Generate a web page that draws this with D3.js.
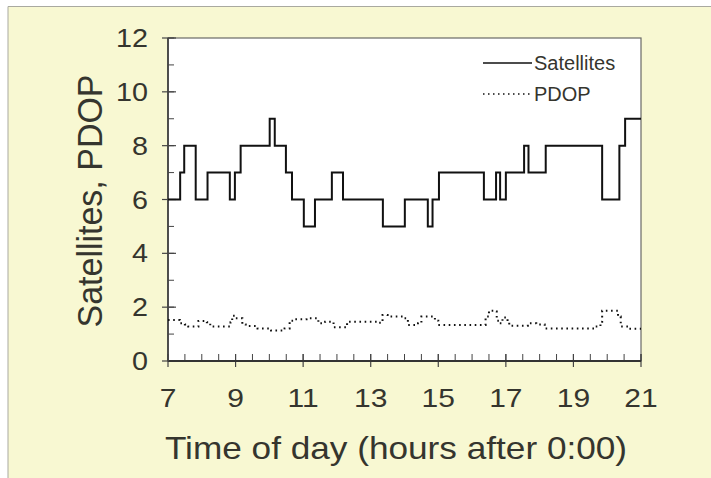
<!doctype html>
<html>
<head>
<meta charset="utf-8"/>
<title>Satellites, PDOP</title>
<script src="https://d3js.org/d3.v7.min.js"></script>
<style>
body { margin:0; background:#fff; }
text { font-family: "Liberation Sans", Arial, sans-serif; fill:#35352e; }
</style>
</head>
<body>
<script>
// step data: hour where each level starts, and the level
var satHours  = [7, 7.36, 7.48, 7.82, 8.17, 8.83, 8.98, 9.15, 10.01, 10.16, 10.49, 10.67, 11.02, 11.35, 11.85, 12.18, 13.36, 14.01, 14.69, 14.83, 15.02, 16.35, 16.71, 16.83, 17.0, 17.54, 17.67, 18.18, 19.85, 20.36, 20.53, 21];
var satValues = [6, 7, 8, 6, 7, 6, 7, 8, 9, 8, 7, 6, 5, 6, 7, 6, 5, 6, 5, 6, 7, 6, 7, 6, 7, 8, 7, 8, 6, 8, 9, 9];

var pdopHours  = [7, 7.35, 7.5, 7.6, 7.9, 8.15, 8.25, 8.85, 8.9, 9.0, 9.2, 9.3, 9.65, 10.05, 10.45, 10.6, 10.75, 11.1, 11.45, 11.65, 11.9, 12.3, 13.2, 13.35, 13.5, 14.0, 14.1, 14.4, 14.5, 14.9, 15.0, 16.4, 16.5, 16.68, 16.73, 16.8, 16.9, 17.05, 17.1, 17.65, 17.9, 18.15, 19.65, 19.8, 19.85, 20.32, 20.4, 20.65, 21];
var pdopValues = [1.52, 1.40, 1.36, 1.28, 1.49, 1.44, 1.28, 1.44, 1.68, 1.59, 1.36, 1.30, 1.21, 1.13, 1.21, 1.50, 1.55, 1.59, 1.40, 1.46, 1.25, 1.46, 1.42, 1.71, 1.65, 1.59, 1.34, 1.40, 1.65, 1.50, 1.34, 1.65, 1.87, 1.84, 1.50, 1.40, 1.62, 1.44, 1.31, 1.40, 1.36, 1.21, 1.28, 1.46, 1.87, 1.65, 1.28, 1.20, 1.20];

var xTicks = [7, 9, 11, 13, 15, 17, 19, 21];
var yTicks = [0, 2, 4, 6, 8, 10, 12];
var legendNames = ["Satellites", "PDOP"];

var W = 711, H = 478;
var svg = d3.select("body").append("svg")
    .attr("width", W)
    .attr("height", H);

// yellow card with a thin grey frame on the top and left
svg.append("rect").attr("x", 8).attr("y", 6).attr("width", W - 8).attr("height", H - 6)
    .attr("fill", "#f8f8d2");
svg.append("path").attr("d", "M8," + H + "V6.5H" + W)
    .attr("fill", "none").attr("stroke", "#a9a9a0").attr("stroke-width", 1);

var pL = 168, pR = 641, pT = 38, pB = 361;
var x = d3.scaleLinear().domain([7, 21]).range([pL, pR]);
var y = d3.scaleLinear().domain([0, 12]).range([pB, pT]);

svg.append("rect").attr("x", pL).attr("y", pT)
    .attr("width", pR - pL).attr("height", pB - pT)
    .attr("fill", "#fff").attr("stroke", "#6a6a66").attr("stroke-width", 1.2);

// minor ticks, inside only
var g = svg.append("g");
g.selectAll(".xm").data(d3.range(7, 21.01, 0.5)).enter().append("line")
    .attr("x1", function(d){return x(d)}).attr("x2", function(d){return x(d)})
    .attr("y1", pB).attr("y2", pB - 7)
    .attr("stroke", "#444").attr("stroke-width", 1);
g.selectAll(".ym").data(d3.range(0, 12.01, 1)).enter().append("line")
    .attr("y1", function(d){return y(d)}).attr("y2", function(d){return y(d)})
    .attr("x1", pL).attr("x2", pL + 6)
    .attr("stroke", "#444").attr("stroke-width", 1);

// major ticks cross the axis
g.selectAll(".xM").data(xTicks).enter().append("line")
    .attr("x1", function(d){return x(d)}).attr("x2", function(d){return x(d)})
    .attr("y1", pB + 6).attr("y2", pB - 7)
    .attr("stroke", "#444").attr("stroke-width", 1.2);
g.selectAll(".yM").data(yTicks).enter().append("line")
    .attr("y1", function(d){return y(d)}).attr("y2", function(d){return y(d)})
    .attr("x1", pL - 6).attr("x2", pL + 8)
    .attr("stroke", "#444").attr("stroke-width", 1.2);

// axis lines
svg.append("line").attr("x1", pL).attr("x2", pR).attr("y1", pB).attr("y2", pB)
    .attr("stroke", "#333").attr("stroke-width", 2);
svg.append("line").attr("x1", pL).attr("x2", pL).attr("y1", pT).attr("y2", pB)
    .attr("stroke", "#444").attr("stroke-width", 1.8);

// tick labels (the scan is a little stretched sideways)
svg.selectAll(".xl").data(xTicks).enter().append("text")
    .attr("transform", function(d){return "translate(" + x(d) + ",407) scale(1.2,1)"})
    .attr("text-anchor", "middle").attr("font-size", 25)
    .text(function(d){return d});
svg.selectAll(".yl").data(yTicks).enter().append("text")
    .attr("transform", function(d){return "translate(148," + (y(d) + 9) + ") scale(1.15,1)"})
    .attr("text-anchor", "end").attr("font-size", 25)
    .text(function(d){return d});

// axis titles
svg.append("text").attr("transform", "translate(396,459) scale(1.1,1)")
    .attr("text-anchor", "middle").attr("font-size", 32)
    .text("Time of day (hours after 0:00)");
svg.append("text").attr("transform", "translate(102,201) rotate(-90) scale(1.03,1.08)")
    .attr("text-anchor", "middle").attr("font-size", 33)
    .text("Satellites, PDOP");

// series
var satLine = d3.line().curve(d3.curveStepAfter)
    .x(function(d,i){return x(satHours[i])})
    .y(function(d,i){return y(satValues[i])});
svg.append("path").datum(satValues).attr("d", satLine)
    .attr("fill", "none").attr("stroke", "#111").attr("stroke-width", 2);

var pdopLine = d3.line().curve(d3.curveStepAfter)
    .x(function(d,i){return x(pdopHours[i])})
    .y(function(d,i){return y(pdopValues[i])});
svg.append("path").datum(pdopValues).attr("d", pdopLine)
    .attr("fill", "none").attr("stroke", "#111").attr("stroke-width", 2)
    .attr("stroke-dasharray", "1.6,3.6");

// legend
var leg = svg.selectAll(".leg").data(legendNames).enter().append("g")
    .attr("transform", function(d,i){return "translate(483," + (63 + i*31) + ")"});
leg.append("line").attr("x1", 0).attr("x2", 49)
    .attr("stroke", "#111").attr("stroke-width", function(d,i){return i ? 1.6 : 1.5})
    .attr("stroke-dasharray", function(d,i){return i ? "1.5,3.5" : null});
leg.append("text").attr("x", 51).attr("y", 7).attr("font-size", 20)
    .text(function(d){return d});
</script>
</body>
</html>
